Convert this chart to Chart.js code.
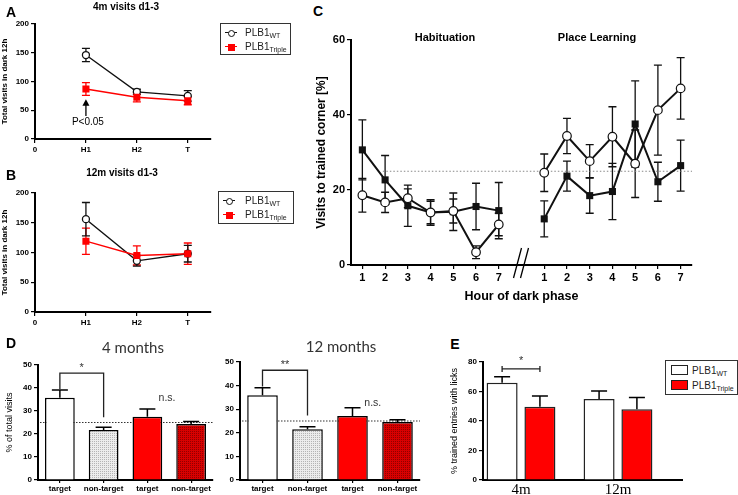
<!DOCTYPE html>
<html>
<head>
<meta charset="utf-8">
<script src="https://cdn.jsdelivr.net/npm/chart.js@4.4.0/dist/chart.umd.min.js"></script>
<style>
  body { margin: 0; background: #fff; }
  #wrap { position: relative; width: 738px; height: 495px; overflow: hidden; font-family: "Liberation Sans", Arial, sans-serif; color: #000; }
  canvas { position: absolute; }
  .t { position: absolute; white-space: nowrap; transform: translate(-50%, -50%); line-height: 1; }
  .letter { font-weight: bold; font-size: 14px; }
  .ptitle { font-weight: bold; font-size: 10px; }
  .ctitle { font-weight: bold; font-size: 11px; }
  .dtitle { font-family: Lato, "Open Sans", sans-serif; font-size: 15px; color: #333; }
  .leg { position: absolute; border: 1px solid #333; background: #fff; box-sizing: border-box; color: #222; }
  .row { position: absolute; left: 0; width: 100%; height: 12px; }
  .ln { position: absolute; left: 4px; top: 5px; width: 12px; height: 1.4px; background: #111; }
  .ln.red { background: #ff0000; }
  .circ { position: absolute; left: 7px; top: 2.5px; width: 5px; height: 5px; border: 1.2px solid #111; border-radius: 50%; background: #fff; }
  .sq { position: absolute; left: 6.5px; top: 2.5px; width: 7px; height: 7px; background: #ff0000; }
  .box { position: absolute; left: 5px; width: 15px; height: 8px; border: 1.2px solid #222; }
  .lt { position: absolute; top: 0; font-size: 10px; line-height: 12px; }
  .lt sub { font-size: 7px; vertical-align: -2px; }
</style>
</head>
<body>
<div id="wrap">
  <canvas id="chartA" width="216" height="160" style="left:0;top:0"></canvas>
  <canvas id="chartB" width="216" height="160" style="left:0;top:170px"></canvas>
  <canvas id="chartC" width="400" height="285" style="left:300px;top:20px"></canvas>
  <canvas id="chartD4" width="215" height="140" style="left:0;top:355px"></canvas>
  <canvas id="chartD12" width="207" height="140" style="left:215px;top:355px"></canvas>
  <canvas id="chartE" width="245" height="140" style="left:440px;top:355px"></canvas>

  <div class="t letter" style="left:11px;top:12px">A</div>
  <div class="t letter" style="left:11px;top:175px">B</div>
  <div class="t letter" style="left:318px;top:11px">C</div>
  <div class="t letter" style="left:11px;top:343px">D</div>
  <div class="t letter" style="left:455px;top:344px">E</div>

  <div class="t ptitle" style="left:126px;top:7px">4m visits d1-3</div>
  <div class="t ptitle" style="left:122px;top:173px">12m visits d1-3</div>
  <div class="t ctitle" style="left:445px;top:37px">Habituation</div>
  <div class="t ctitle" style="left:597px;top:37px">Place Learning</div>
  <div class="t dtitle" style="left:133px;top:347px">4 months</div>
  <div class="t dtitle" style="left:341px;top:346px">12 months</div>

  <div class="leg" style="left:220px;top:23px;width:71px;height:32px">
    <div class="row" style="top:3px"><span class="ln"></span><span class="circ"></span><span class="lt" style="left:24px">PLB1<sub>WT</sub></span></div>
    <div class="row" style="top:17px"><span class="ln red"></span><span class="sq"></span><span class="lt" style="left:24px">PLB1<sub>Triple</sub></span></div>
  </div>
  <div class="leg" style="left:218px;top:191px;width:76px;height:33px">
    <div class="row" style="top:3px"><span class="ln"></span><span class="circ"></span><span class="lt" style="left:26px">PLB1<sub>WT</sub></span></div>
    <div class="row" style="top:17px"><span class="ln red"></span><span class="sq"></span><span class="lt" style="left:26px">PLB1<sub>Triple</sub></span></div>
  </div>
  <div class="leg" style="left:665px;top:360px;width:73px;height:35px">
    <div class="row" style="top:4px"><span class="box" style="background:#fff"></span><span class="lt" style="left:26px">PLB1<sub>WT</sub></span></div>
    <div class="row" style="top:19px"><span class="box" style="background:#ff0000"></span><span class="lt" style="left:26px">PLB1<sub>Triple</sub></span></div>
  </div>
</div>

<script>
// ---- data ----
const abLabels = ["0", "H1", "H2", "T"];
const a4mWT = [146, 82, 75];
const a4mWTErr = [11.5, 4.5, 9];
const a4mTriple = [87, 72.5, 66.6];
const a4mTripleErr = [11, 8, 7];
const b12mWT = [156, 86, 98];
const b12mWTErr = [28, 9, 14];
const b12mTriple = [119, 95, 98];
const b12mTripleErr = [22, 16, 18];

const hourLabels = ["1", "2", "3", "4", "5", "6", "7"];
const habWT = [18.6, 16.7, 17.8, 14.0, 14.4, 3.4, 10.8];
const habWTErr = [4.5, 2.7, 2.5, 3, 3.2, 1.7, 3];
const habTriple = [30.7, 22.7, 15.8, 14.0, 14.2, 15.6, 14.5];
const habTripleErr = [8, 6.5, 5.5, 3.4, 5, 6.2, 7.5];
const plWT = [24.6, 34.4, 27.7, 34.2, 27, 41.3, 47.1];
const plWTErr = [5, 4.7, 4.4, 8, 9, 12, 8.2];
const plTriple = [12.3, 23.7, 18.5, 19.6, 37.6, 22.2, 26.5];
const plTripleErr = [4.8, 4, 4.7, 7.5, 11.5, 5.2, 6.8];

const dLabels = ["target", "non-target", "target", "non-target"];
const d4m = [35.8, 21.7, 27.5, 24.3];
const d4mErr = [3.3, 1.2, 3.4, 1.1];
const d12m = [35.9, 21.5, 27.1, 24.6];
const d12mErr = [3.2, 1.1, 3.5, 0.9];

const eLabels = ["4m", "12m"];
const eWT = [66, 54.9];
const eWTErr = [4, 5.4];
const eTriple = [49.7, 47.9];
const eTripleErr = [7.3, 8.1];

Chart.defaults.font.family = '"Liberation Sans", Arial, sans-serif';
Chart.defaults.color = "#000";
Chart.defaults.animation = false;
Chart.defaults.events = [];
Chart.defaults.plugins.legend.display = false;
Chart.defaults.plugins.tooltip.enabled = false;

// error bars drawn from dataset.err, through the y scale
function drawErrors(chart, opts) {
  const ctx = chart.ctx;
  const y = chart.scales.y;
  chart.data.datasets.forEach((ds, di) => {
    if (!ds.err) return;
    const meta = chart.getDatasetMeta(di);
    meta.data.forEach((el, i) => {
      const raw = ds.data[i];
      const val = raw !== null && typeof raw === "object" ? raw.y : raw;
      const e = ds.err[i];
      if (val == null || !e) return;
      const top = y.getPixelForValue(val + e);
      const bot = y.getPixelForValue(opts.upOnly ? val : val - e);
      const half = opts.cap / 2;
      ctx.save();
      ctx.strokeStyle = ds.errColor || ds.borderColor;
      ctx.lineWidth = opts.width;
      ctx.beginPath();
      ctx.moveTo(el.x, top);
      ctx.lineTo(el.x, bot);
      ctx.moveTo(el.x - half, top);
      ctx.lineTo(el.x + half, top);
      if (!opts.upOnly) {
        ctx.moveTo(el.x - half, bot);
        ctx.lineTo(el.x + half, bot);
      }
      ctx.stroke();
      ctx.restore();
    });
  });
}
const errorBars = {
  id: "errorBars",
  beforeDatasetsDraw(chart, args, opts) { if (opts.under) drawErrors(chart, opts); },
  afterDatasetsDraw(chart, args, opts) { if (!opts.under) drawErrors(chart, opts); }
};

function yAxis(max, step, width, fontSize, title) {
  return {
    min: 0, max: max,
    afterFit: (s) => { s.width = width; },
    ticks: { stepSize: step, font: { size: fontSize, weight: "bold" }, padding: 2 },
    grid: { drawOnChartArea: false, tickLength: 4, color: "#000", lineWidth: 1.2 },
    border: { color: "#000", width: 2 },
    title: title || { display: false }
  };
}

function line(ctx, x1, y1, x2, y2) {
  ctx.moveTo(x1, y1);
  ctx.lineTo(x2, y2);
}

// ---- A and B: visits per phase ----
function visitChart(id, wt, wtErr, tri, triErr, topPad, xHeight, extra) {
  const pts = (arr) => arr.map((v, i) => ({ x: i + 1, y: v }));
  return new Chart(document.getElementById(id), {
    type: "line",
    data: {
      datasets: [
        { label: "PLB1 Triple", data: pts(tri), err: triErr, borderColor: "#ff0000", backgroundColor: "#ff0000",
          borderWidth: 1.4, pointStyle: "rect", pointRadius: 5, pointBorderWidth: 0 },
        { label: "PLB1 WT", data: pts(wt), err: wtErr, borderColor: "#111", backgroundColor: "#fff",
          borderWidth: 1.4, pointStyle: "circle", pointRadius: 3.5, pointBorderWidth: 1.3 }
      ]
    },
    options: {
      responsive: false,
      layout: { padding: { top: topPad, right: 3, left: 0, bottom: 0 } },
      scales: {
        x: {
          type: "linear", min: 0, max: 3.45,
          afterFit: (s) => { s.height = xHeight; },
          afterBuildTicks: (s) => { s.ticks = abLabels.map((l, i) => ({ value: i })); },
          ticks: { callback: (v, i) => abLabels[i], font: { size: 8, weight: "bold" }, padding: 2, autoSkip: false, maxRotation: 0 },
          grid: { drawOnChartArea: false, tickLength: 4, color: "#000", lineWidth: 1.2 },
          border: { color: "#000", width: 2 }
        },
        y: yAxis(200, 50, 35, 8, { display: true, text: "Total visits in dark 12h", font: { size: 8, weight: "bold" }, padding: { top: 0, bottom: 0 } })
      },
      plugins: { errorBars: { cap: 8, width: 1.3, under: true } }
    },
    plugins: [errorBars].concat(extra || [])
  });
}

visitChart("chartA", a4mWT, a4mWTErr, a4mTriple, a4mTripleErr, 24, 21, [{
  id: "pNote",
  afterDraw(chart) {
    const ctx = chart.ctx, x = chart.scales.x, y = chart.scales.y;
    const xp = x.getPixelForValue(1);
    ctx.save();
    ctx.strokeStyle = "#000";
    ctx.fillStyle = "#000";
    ctx.lineWidth = 1.3;
    ctx.beginPath();
    line(ctx, xp, y.getPixelForValue(40), xp, y.getPixelForValue(62));
    ctx.stroke();
    ctx.beginPath();
    ctx.moveTo(xp, y.getPixelForValue(69));
    ctx.lineTo(xp - 3.5, y.getPixelForValue(58));
    ctx.lineTo(xp + 3.5, y.getPixelForValue(58));
    ctx.closePath();
    ctx.fill();
    ctx.font = '10px "Liberation Sans", Arial';
    ctx.textAlign = "center";
    ctx.textBaseline = "middle";
    ctx.fillText("P<0.05", xp + 2, y.getPixelForValue(29));
    ctx.restore();
  }
}]);
visitChart("chartB", b12mWT, b12mWTErr, b12mTriple, b12mTripleErr, 23, 18);

// ---- C: visits to trained corner per hour ----
function hourPoints(left, right) {
  return left.map((v, i) => ({ x: i + 1, y: v }))
    .concat([{ x: 8, y: null }])
    .concat(right.map((v, i) => ({ x: i + 9, y: v })));
}
const cTicks = hourLabels.map((l, i) => i + 1).concat(hourLabels.map((l, i) => i + 9));

new Chart(document.getElementById("chartC"), {
  type: "line",
  data: {
    datasets: [
      { label: "PLB1 WT", data: hourPoints(habWT, plWT), err: habWTErr.concat([null], plWTErr),
        borderColor: "#111", backgroundColor: "#fff", borderWidth: 2, pointStyle: "circle", pointRadius: 4.3, pointBorderWidth: 1.2 },
      { label: "PLB1 Triple", data: hourPoints(habTriple, plTriple), err: habTripleErr.concat([null], plTripleErr),
        borderColor: "#111", backgroundColor: "#111", borderWidth: 2, pointStyle: "rect", pointRadius: 5, pointBorderWidth: 0 }
    ]
  },
  options: {
    responsive: false,
    layout: { padding: { top: 20, right: 8, left: 0, bottom: 0 } },
    scales: {
      x: {
        type: "linear", min: 0.5, max: 15.5,
        afterFit: (s) => { s.height = 40; },
        afterBuildTicks: (s) => { s.ticks = cTicks.map((v) => ({ value: v })); },
        ticks: { callback: (v, i) => hourLabels[i % 7], font: { size: 11, weight: "bold" }, padding: 2, autoSkip: false, maxRotation: 0 },
        grid: { drawOnChartArea: false, tickLength: 4, color: "#000", lineWidth: 1.2 },
        border: { color: "#000", width: 2 },
        title: { display: true, text: "Hour of dark phase", font: { size: 12.5, weight: "bold" }, padding: { top: 0, bottom: 1 } }
      },
      y: yAxis(60, 20, 51, 11, { display: true, text: "Visits to trained corner [%]", font: { size: 12, weight: "bold" }, padding: { top: 14, bottom: 0 } })
    },
    plugins: { errorBars: { cap: 8, width: 1.3, under: true } }
  },
  plugins: [errorBars, {
    id: "cExtras",
    beforeDatasetsDraw(chart) {
      const ctx = chart.ctx, x = chart.scales.x, y = chart.scales.y;
      const yp = y.getPixelForValue(25);
      ctx.save();
      ctx.strokeStyle = "#888";
      ctx.lineWidth = 1.2;
      ctx.setLineDash([1.5, 2]);
      ctx.beginPath();
      line(ctx, x.getPixelForValue(1.9), yp, x.getPixelForValue(15.5), yp);
      ctx.stroke();
      ctx.restore();
    },
    afterDraw(chart) {
      const ctx = chart.ctx, x = chart.scales.x;
      const xp = x.getPixelForValue(8), y0 = chart.chartArea.bottom;
      ctx.save();
      ctx.strokeStyle = "#000";
      ctx.lineWidth = 1.3;
      ctx.beginPath();
      line(ctx, xp - 8, y0 + 13, xp, y0 - 17);
      line(ctx, xp - 1, y0 + 13, xp + 7, y0 - 17);
      ctx.stroke();
      ctx.restore();
    }
  }]
});

// ---- D: percentage of total visits ----
function stipple(canvasId, base, dot) {
  const c = document.createElement("canvas");
  c.width = 2; c.height = 2;
  const g = c.getContext("2d");
  g.fillStyle = base;
  g.fillRect(0, 0, 2, 2);
  g.fillStyle = dot;
  g.fillRect(0, 0, 1, 1);
  return document.getElementById(canvasId).getContext("2d").createPattern(c, "repeat");
}

function visitsBar(id, values, errs, yWidth, topPad, yTitle, note) {
  return new Chart(document.getElementById(id), {
    type: "bar",
    data: {
      labels: dLabels,
      datasets: [{
        data: values, err: errs, errColor: "#000",
        backgroundColor: ["#fff", stipple(id, "#ececec", "#b4b4b4"), "#ff0000", stipple(id, "#d80000", "#900000")],
        borderColor: "#000", borderWidth: 1.5, borderSkipped: "bottom",
        barPercentage: 0.68, categoryPercentage: 1
      }]
    },
    options: {
      responsive: false,
      layout: { padding: { top: topPad, right: 2, left: 0, bottom: 0 } },
      scales: {
        x: {
          afterFit: (s) => { s.height = 15; },
          ticks: { font: { size: 8, weight: "bold" }, padding: 1, autoSkip: false, maxRotation: 0 },
          grid: { drawOnChartArea: false, offset: false, tickLength: 3, color: "#000", lineWidth: 1.2 },
          border: { color: "#000", width: 2 }
        },
        y: yAxis(50, 10, yWidth, 8, yTitle)
      },
      plugins: { errorBars: { cap: 16, width: 1.5, upOnly: true } }
    },
    plugins: [errorBars, {
      id: "dExtras",
      beforeDatasetsDraw(chart) {
        const ctx = chart.ctx, y = chart.scales.y, a = chart.chartArea;
        const yp = y.getPixelForValue(25);
        ctx.save();
        ctx.strokeStyle = "#333";
        ctx.lineWidth = 1.2;
        ctx.setLineDash([1.5, 1.5]);
        ctx.beginPath();
        line(ctx, a.left + 2, yp, a.right, yp);
        ctx.stroke();
        ctx.restore();
      },
      afterDraw(chart) {
        const ctx = chart.ctx, x = chart.scales.x, y = chart.scales.y;
        const x0 = x.getPixelForValue(0), x1 = x.getPixelForValue(1);
        const top = y.getPixelForValue(46.5);
        ctx.save();
        ctx.strokeStyle = "#222";
        ctx.lineWidth = 1.3;
        ctx.beginPath();
        ctx.moveTo(x0, y.getPixelForValue(39.6));
        ctx.lineTo(x0, top);
        ctx.lineTo(x1, top);
        ctx.lineTo(x1, y.getPixelForValue(27.3));
        ctx.stroke();
        ctx.fillStyle = "#333";
        ctx.textAlign = "center";
        ctx.textBaseline = "middle";
        ctx.font = '11px "Liberation Sans", Arial';
        ctx.fillText(note.star, x.getPixelForValue(0.5), y.getPixelForValue(48.6));
        ctx.font = '10.5px "Liberation Sans", Arial';
        ctx.fillText("n.s.", x.getPixelForValue(note.nsX), y.getPixelForValue(note.nsY));
        ctx.restore();
      }
    }]
  });
}

visitsBar("chartD4", d4m, d4mErr, 38, 10,
  { display: true, text: "% of total visits", font: { size: 9 }, padding: { top: 4, bottom: 0 } },
  { star: "*", nsX: 2.45, nsY: 35.5 });
visitsBar("chartD12", d12m, d12mErr, 25, 7, null,
  { star: "**", nsX: 2.45, nsY: 32.5 });

// ---- E: trained entries with licks ----
const eX = [0.5, 1.5];
new Chart(document.getElementById("chartE"), {
  type: "bar",
  data: {
    datasets: [
      { label: "PLB1 WT", data: eWT.map((v, i) => ({ x: eX[i], y: v })), err: eWTErr, errColor: "#000",
        backgroundColor: "#fff", borderColor: "#222", borderWidth: 1.5 },
      { label: "PLB1 Triple", data: eTriple.map((v, i) => ({ x: eX[i], y: v })), err: eTripleErr, errColor: "#000",
        backgroundColor: "#ff0000", borderColor: "#222", borderWidth: 1.5 }
    ]
  },
  options: {
    responsive: false,
    categoryPercentage: 0.78,
    barPercentage: 0.82,
    layout: { padding: { top: 7, right: 3, left: 0, bottom: 0 } },
    scales: {
      x: {
        type: "linear", min: 0.108, max: 2.16, offset: false,
        afterFit: (s) => { s.height = 15; },
        afterBuildTicks: (s) => { s.ticks = eX.map((v) => ({ value: v })); },
        ticks: { callback: (v, i) => eLabels[i], font: { family: '"Liberation Serif", serif', size: 15 }, padding: 1, autoSkip: false, maxRotation: 0 },
        grid: { drawOnChartArea: false, offset: false, drawTicks: false, tickLength: 2 },
        border: { color: "#000", width: 2 }
      },
      y: yAxis(80, 20, 43, 8, { display: true, text: "% trained entries with licks", font: { size: 9 }, padding: { top: 9.5, bottom: 0 } })
    },
    plugins: { errorBars: { cap: 16, width: 1.5, upOnly: true } }
  },
  plugins: [errorBars, {
    id: "eExtras",
    afterDraw(chart) {
      const ctx = chart.ctx, y = chart.scales.y;
      const xa = chart.getDatasetMeta(0).data[0].x;
      const xb = chart.getDatasetMeta(1).data[0].x;
      const yp = y.getPixelForValue(75.3);
      ctx.save();
      ctx.strokeStyle = "#222";
      ctx.lineWidth = 1.3;
      ctx.beginPath();
      line(ctx, xa, yp, xb, yp);
      line(ctx, xa, yp - 3, xa, yp + 3);
      line(ctx, xb, yp - 3, xb, yp + 3);
      ctx.stroke();
      ctx.fillStyle = "#333";
      ctx.font = '11px "Liberation Sans", Arial';
      ctx.textAlign = "center";
      ctx.textBaseline = "middle";
      ctx.fillText("*", (xa + xb) / 2, y.getPixelForValue(80.5));
      ctx.restore();
    }
  }]
});
</script>
</body>
</html>
